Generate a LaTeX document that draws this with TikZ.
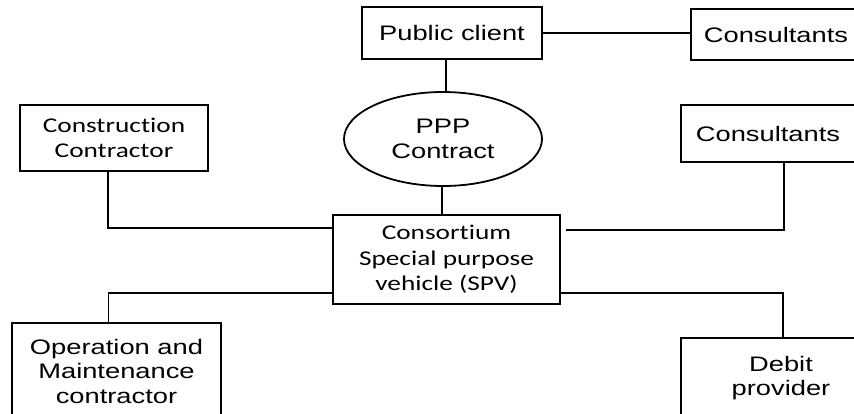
\documentclass[tikz,border=0pt]{standalone}
\usepackage{fontspec}
\usetikzlibrary{shapes.geometric,calc}
\newfontfamily\arialw[FakeStretch=1.3]{Liberation Sans}
\newfontfamily\calw[FakeStretch=1.3,Ligatures=NoCommon]{Carlito}
\begin{document}
\begin{tikzpicture}[x=1pt,y=-1pt,
  box/.style={draw,line width=1.8pt,rectangle,inner sep=0pt,align=center},
  oval/.style={draw,line width=1.8pt,ellipse,inner sep=0pt,align=center},
  link/.style={line width=1.8pt},
  af/.style={font=\arialw\fontsize{21}{24.5}\selectfont},
  cf/.style={font=\calw\fontsize{21}{25.5}\selectfont}]
\useasboundingbox (0,0) rectangle (854,413);
\clip (0,0) rectangle (854,413);
\node[box,af,minimum width=180pt,minimum height=52pt] (pub) at (452,33) {Public client};
\node[box,af,minimum width=170pt,minimum height=51pt] (cons1) at (776,34.5) {Consultants};
\node[oval,af,minimum width=198pt,minimum height=94pt] (ppp) at (443,139) {PPP\\Contract};
\node[box,cf,minimum width=188pt,minimum height=66pt] (cc) at (114,138) {Construction\\Contractor};
\node[box,af,minimum width=174pt,minimum height=57pt] (cr) at (768,133.5) {Consultants};
\node[box,cf,minimum width=227pt,minimum height=89pt] (spv) at (446.5,259.5) {Consortium\\Special purpose\\vehicle (SPV)};
\node[box,af,minimum width=209pt,minimum height=96pt] (om) at (116.5,371) {Operation and\\Maintenance\\contractor};
\node[box,af,minimum width=200pt,minimum height=80pt] (db) at (781,378) {Debit\\provider};
\draw[link] (pub.east) -- (pub.east -| cons1.west);
\draw[link] ([xshift=-6pt]pub.south) -- ([xshift=-6pt]pub.south |- ppp.north);
\draw[link] ([xshift=-1pt]ppp.south) -- ([xshift=-1pt]ppp.south |- spv.north);
\draw[link] ($(spv.north west)+(0,14)$) -| ([xshift=-6pt]cc.south);
\draw[link] ($(spv.north east)+(5,16)$) -| ([xshift=16pt]cr.south);
\draw[link] ($(spv.south west)+(0,-12)$) -| ([xshift=-8pt]om.north);
\draw[link] ($(spv.south east)+(0,-12)$) -| ([xshift=2pt]db.north);
\end{tikzpicture}
\end{document}
